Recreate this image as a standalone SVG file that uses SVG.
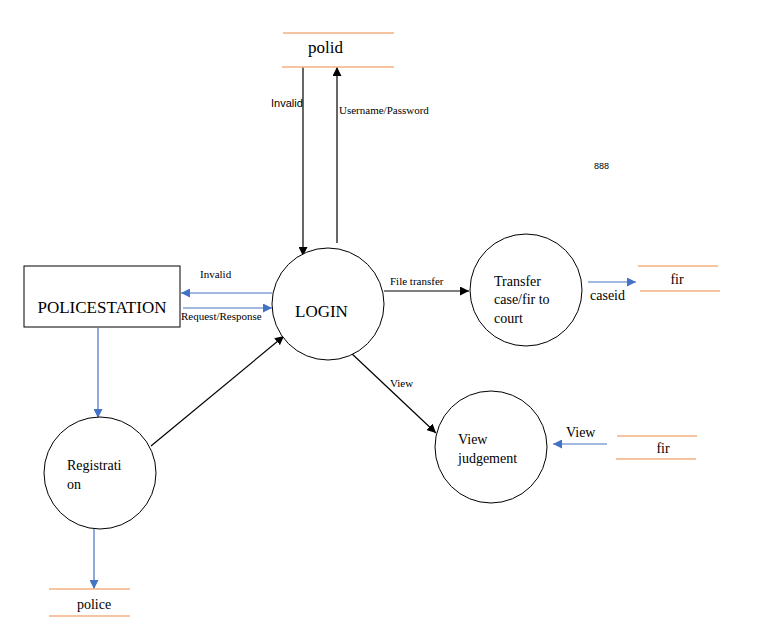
<svg xmlns="http://www.w3.org/2000/svg" width="768" height="623" viewBox="0 0 768 623">
  <defs>
    <marker id="ab" viewBox="0 0 10 10" refX="10" refY="5" markerWidth="9" markerHeight="9" markerUnits="userSpaceOnUse" orient="auto">
      <path d="M0,0 L10,5 L0,10 z" fill="#000"/>
    </marker>
    <marker id="au" viewBox="0 0 10 10" refX="10" refY="5" markerWidth="9" markerHeight="9" markerUnits="userSpaceOnUse" orient="auto">
      <path d="M0,0 L10,5 L0,10 z" fill="#4472C4"/>
    </marker>
    <style>
      text { font-family: "Liberation Serif", "Times New Roman", serif; fill: #000; }
      text.sans { font-family: "Liberation Sans", Arial, sans-serif; }
      .big { font-size: 17px; }
      .mid { font-size: 14px; }
      .sm { font-size: 11px; }
      .tiny { font-size: 9px; }
      .proc { fill: #fff; stroke: #000; stroke-width: 1; }
      .store { stroke: #F4B183; stroke-width: 1.5; fill: none; }
      .blk { stroke: #000; stroke-width: 1.2; fill: none; marker-end: url(#ab); }
      .blu { stroke: #4472C4; stroke-width: 1.2; fill: none; marker-end: url(#au); }
    </style>
  </defs>
  <rect width="768" height="623" fill="#fff"/>

  <g id="connectors">
    <line class="blk" x1="303" y1="67" x2="303" y2="256"/>
    <line class="blk" x1="337" y1="243" x2="337" y2="67"/>
    <line class="blu" x1="272" y1="293" x2="181" y2="293"/>
    <line class="blu" x1="183" y1="308" x2="272" y2="308"/>
    <line class="blu" x1="98" y1="328" x2="98" y2="418"/>
    <line class="blu" x1="94" y1="528" x2="94" y2="589"/>
    <line class="blk" x1="151" y1="446" x2="284" y2="336"/>
    <line class="blk" x1="384" y1="291" x2="469" y2="291"/>
    <line class="blk" x1="350" y1="352" x2="436" y2="433"/>
    <line class="blu" x1="588" y1="282" x2="636" y2="282"/>
    <line class="blu" x1="607" y1="444" x2="553" y2="444"/>
    <text class="sm sans" x="271" y="107" font-size="10">Invalid</text>
    <text class="sm" x="339" y="114">Username/Password</text>
    <text class="sm" x="200" y="278">Invalid</text>
    <text class="sm" x="181" y="320">Request/Response</text>
    <text class="sm" x="390" y="285">File transfer</text>
    <text class="sm" x="390" y="387">View</text>
    <text class="mid" x="590" y="300">caseid</text>
    <text class="mid" x="566" y="437">View</text>
  </g>

  <g id="polid">
    <line class="store" x1="283" y1="33" x2="394" y2="33"/>
    <line class="store" x1="282" y1="67" x2="394" y2="67"/>
    <text class="big" x="308" y="53">polid</text>
  </g>

  <g id="login">
    <circle class="proc" cx="328" cy="304" r="56"/>
    <text class="big" x="295" y="317">LOGIN</text>
  </g>

  <g id="policestation">
    <rect class="proc" x="24" y="266" width="156" height="61"/>
    <text class="big" x="102" y="313" text-anchor="middle">POLICESTATION</text>
  </g>

  <g id="registration">
    <circle class="proc" cx="100" cy="473" r="56"/>
    <text class="mid" x="67" y="470">Registrati</text>
    <text class="mid" x="67" y="489">on</text>
  </g>

  <g id="police">
    <line class="store" x1="49" y1="589" x2="130" y2="589"/>
    <line class="store" x1="49" y1="616" x2="130" y2="616"/>
    <text class="mid" x="94" y="609" text-anchor="middle">police</text>
  </g>

  <g id="transfer">
    <circle class="proc" cx="526" cy="290" r="56"/>
    <text class="mid" x="494" y="286">Transfer</text>
    <text class="mid" x="494" y="304">case/fir to</text>
    <text class="mid" x="494" y="323">court</text>
  </g>

  <g id="fir-store-1">
    <line class="store" x1="638" y1="266" x2="718" y2="266"/>
    <line class="store" x1="640" y1="291" x2="720" y2="291"/>
    <text class="mid" x="677" y="284" text-anchor="middle">fir</text>
  </g>

  <g id="view-judgement">
    <circle class="proc" cx="491" cy="447" r="56"/>
    <text class="mid" x="458" y="444">View</text>
    <text class="mid" x="458" y="463">judgement</text>
  </g>

  <g id="fir-store-2">
    <line class="store" x1="617" y1="436" x2="697" y2="436"/>
    <line class="store" x1="616" y1="459" x2="696" y2="459"/>
    <text class="mid" x="663" y="453" text-anchor="middle">fir</text>
  </g>

  <text class="tiny sans" x="594" y="169">888</text>
</svg>
